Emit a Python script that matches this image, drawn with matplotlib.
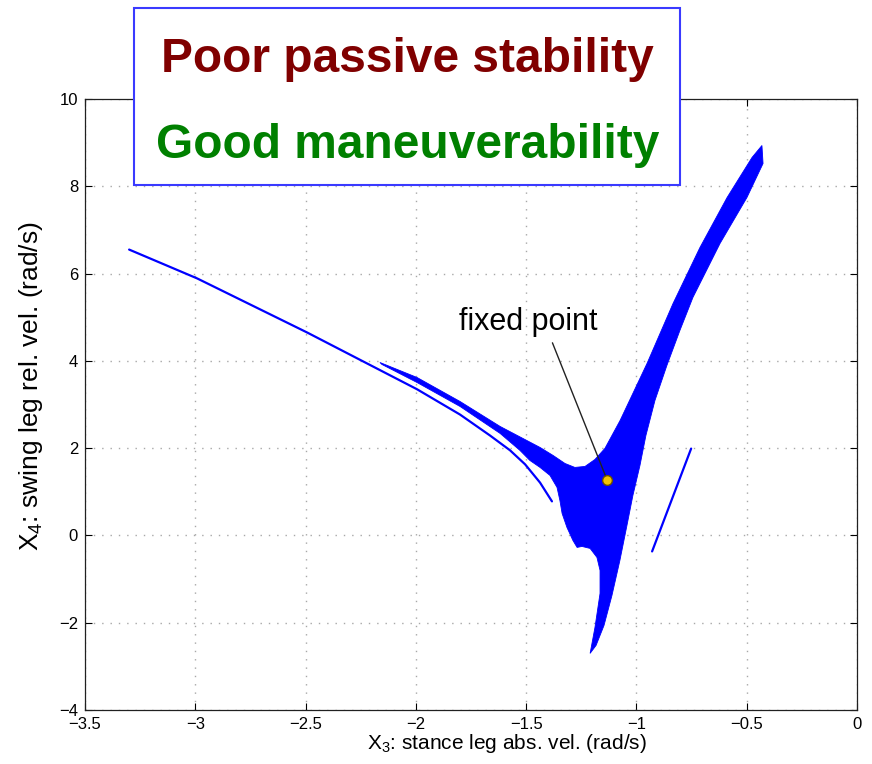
import matplotlib
matplotlib.use("Agg")
import matplotlib.pyplot as plt
from matplotlib import font_manager
from matplotlib.patches import Rectangle

plt.rcParams['font.family'] = ['Liberation Sans', 'DejaVu Sans']
plt.rcParams['mathtext.default'] = 'regular'
plt.rcParams['axes.unicode_minus'] = True

# ---- data -------------------------------------------------------------
# thin branch coming in from the upper left
long_branch_x = [-3.300, -2.992, -2.493, -1.995, -1.800, -1.664, -1.573, -1.505, -1.437, -1.383]
long_branch_y = [6.55, 5.89, 4.65, 3.35, 2.77, 2.29, 1.95, 1.63, 1.21, 0.78]

# outline of the dense region swept by the trajectories
basin_x = [-2.163, -1.995, -1.800, -1.618, -1.437, -1.378, -1.324, -1.279, -1.233, -1.188,
           -1.143, -1.074, -0.952, -0.834, -0.712, -0.589, -0.476, -0.431,
           -0.426, -0.499, -0.621, -0.744, -0.803, -0.862, -0.916, -0.957, -0.984,
           -1.016, -1.043, -1.075, -1.111, -1.147, -1.183, -1.210,
           -1.188, -1.165, -1.165, -1.179, -1.210, -1.247, -1.269, -1.288, -1.315,
           -1.337, -1.347, -1.360, -1.392, -1.437, -1.483, -1.528, -1.618, -1.800,
           -1.995, -2.154]
basin_y = [3.963, 3.620, 3.070, 2.497, 2.016, 1.833, 1.649, 1.558, 1.581, 1.741,
           1.993, 2.635, 3.940, 5.315, 6.598, 7.743, 8.660, 8.935,
           8.522, 7.743, 6.690, 5.452, 4.696, 3.894, 3.093, 2.291, 1.604,
           0.917, 0.229, -0.573, -1.375, -2.062, -2.520, -2.703,
           -2.108, -1.329, -0.802, -0.504, -0.298, -0.252, -0.275, -0.115, 0.183,
           0.504, 0.802, 1.100, 1.375, 1.558, 1.718, 1.948, 2.337, 2.956,
           3.505, 3.918]

# short isolated segment on the right
short_branch_x = [-0.929, -0.752]
short_branch_y = [-0.367, 1.99]

fixed_point = (-1.132, 1.26)
fixed_label_pos = (-1.491, 4.88)

xticks = [-3.5, -3.0, -2.5, -2.0, -1.5, -1.0, -0.5, 0.0]
xtick_labels = ['\u22123.5', '\u22123', '\u22122.5', '\u22122', '\u22121.5', '\u22121', '\u22120.5', '0']
yticks = [-4, -2, 0, 2, 4, 6, 8, 10]
ytick_labels = ['\u22124', '\u22122', '0', '2', '4', '6', '8', '10']

# ---- figure -----------------------------------------------------------
fig = plt.figure(figsize=(8.72, 7.64), dpi=100)
fig.patch.set_facecolor('white')
ax = fig.add_axes([0.0975, 0.0707, 0.8853, 0.7997])

blue = '#0000ff'
ax.fill(basin_x, basin_y, facecolor=blue, edgecolor=blue, lw=0.6, zorder=3)
ax.plot(long_branch_x, long_branch_y, color=blue, lw=1.6, solid_capstyle='round', zorder=3)
ax.plot(short_branch_x, short_branch_y, color=blue, lw=1.6, solid_capstyle='round', zorder=3)

ax.annotate('fixed point', xy=fixed_point, xytext=fixed_label_pos,
            ha='center', va='center', fontsize=22, color='black',
            arrowprops=dict(arrowstyle='-', color='#222222', lw=1.0,
                            relpos=(0.66, 0.0), shrinkA=2, shrinkB=0),
            zorder=5)
ax.plot(*fixed_point, 'o', ms=7, mfc='#f2c200', mec='#6b5200', mew=1.0, zorder=6)

ax.set_xlim(-3.5, 0)
ax.set_ylim(-4, 10)
ax.set_xticks(xticks)
ax.set_xticklabels(xtick_labels)
ax.set_yticks(yticks)
ax.set_yticklabels(ytick_labels)
ax.tick_params(direction='in', length=5, width=0.8, top=True, right=True,
               labelsize=12, pad=5)
ax.grid(True, color='#a8a8a8', lw=1.0, linestyle=(0, (1, 5)), zorder=0)
ax.set_axisbelow(True)
for s in ax.spines.values():
    s.set_linewidth(0.9)
    s.set_color('#202020')

# axis labels
names = {f.name for f in font_manager.fontManager.ttflist}
if 'Liberation Sans Narrow' in names:
    xl_family, xl_size = 'Liberation Sans Narrow', 19
else:
    xl_family, xl_size = 'Liberation Sans', 15
ax.set_xlabel('X$_3$: stance leg abs. vel. (rad/s)', family=xl_family, fontsize=xl_size)
ax.xaxis.set_label_coords(0.546, -0.036)
ax.set_ylabel('X$_4$: swing leg rel. vel. (rad/s)', fontsize=19)
ax.yaxis.set_label_coords(-0.052, 0.53)

# headline box
box = Rectangle((134 / 872, 1 - 185 / 764), 546 / 872, 177 / 764,
                transform=fig.transFigure, facecolor='white',
                edgecolor='#3a3aff', lw=1.5, zorder=5)
fig.add_artist(box)
fig.text(407 / 872, 1 - 72 / 764, 'Poor passive stability', ha='center', va='baseline',
         fontsize=34.5, fontweight='bold', color='#800000', zorder=6)
fig.text(408 / 872, 1 - 158 / 764, 'Good maneuverability', ha='center', va='baseline',
         fontsize=34.5, fontweight='bold', color='#008000', zorder=6)

fig.savefig('out.png', dpi=100, facecolor='white')
